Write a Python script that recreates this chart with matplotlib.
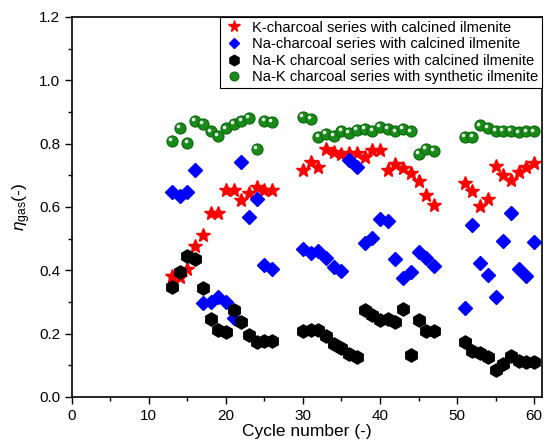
import matplotlib
matplotlib.use('Agg')
import matplotlib.pyplot as plt
import matplotlib.transforms as mtransforms
from matplotlib.ticker import MultipleLocator

plt.rcParams['font.family'] = ['Liberation Sans', 'DejaVu Sans']
plt.rcParams['mathtext.fontset'] = 'custom'
plt.rcParams['mathtext.rm'] = 'Liberation Sans'
plt.rcParams['mathtext.it'] = 'Liberation Sans:italic'

# cycle numbers of the three test campaigns
cycles_a = list(range(13, 27))
cycles_b = list(range(30, 48))
cycles_c = list(range(51, 61))
cycles = cycles_a + cycles_b + cycles_c

# gas conversion per cycle
k_calcined = [0.383, 0.380, 0.403, 0.477, 0.510, 0.582, 0.582, 0.654, 0.654, 0.622, 0.645, 0.662, 0.654, 0.654,
              0.715, 0.743, 0.726, 0.783, 0.774, 0.768, 0.770, 0.770, 0.756, 0.780, 0.780, 0.717, 0.736, 0.723,
              0.707, 0.683, 0.638, 0.605,
              0.675, 0.649, 0.603, 0.625, 0.730, 0.701, 0.686, 0.709, 0.726, 0.740]
na_calcined = [0.648, 0.635, 0.648, 0.715, 0.296, 0.301, 0.314, 0.299, 0.249, 0.742, 0.568, 0.625, 0.415, 0.403,
               0.468, 0.454, 0.461, 0.438, 0.409, 0.396, 0.749, 0.727, 0.486, 0.501, 0.562, 0.556, 0.435, 0.375,
               0.393, 0.456, 0.439, 0.414,
               0.282, 0.543, 0.422, 0.385, 0.314, 0.491, 0.582, 0.403, 0.383, 0.488]
nak_calcined = [0.348, 0.393, 0.446, 0.434, 0.343, 0.245, 0.212, 0.204, 0.275, 0.235, 0.197, 0.174, 0.175, 0.175,
                0.209, 0.212, 0.212, 0.191, 0.168, 0.154, 0.134, 0.127, 0.275, 0.259, 0.243, 0.245, 0.238, 0.277,
                0.133, 0.243, 0.209, 0.209,
                0.172, 0.146, 0.140, 0.127, 0.085, 0.104, 0.130, 0.114, 0.110, 0.110]
nak_synthetic = [0.809, 0.850, 0.801, 0.872, 0.862, 0.838, 0.825, 0.848, 0.862, 0.872, 0.880, 0.783, 0.872, 0.869,
                 0.884, 0.877, 0.822, 0.830, 0.825, 0.841, 0.833, 0.844, 0.846, 0.840, 0.852, 0.846, 0.838, 0.846,
                 0.838, 0.767, 0.783, 0.778,
                 0.822, 0.822, 0.857, 0.849, 0.841, 0.841, 0.841, 0.835, 0.838, 0.838]

labels = ['K-charcoal series with calcined ilmenite',
          'Na-charcoal series with calcined ilmenite',
          'Na-K charcoal series with calcined ilmenite',
          'Na-K charcoal series with synthetic ilmenite']

fig = plt.figure(figsize=(5.44, 4.43), dpi=100)
ax = fig.add_axes([0.132, 0.104, 0.864, 0.858])

ax.plot(cycles, k_calcined, ls='none', marker='*', ms=10.5, color='red', mec='red', label=labels[0])
ax.plot(cycles, na_calcined, ls='none', marker='D', ms=7, color='blue', mec='blue', label=labels[1])
ax.plot(cycles, nak_calcined, ls='none', marker='h', ms=9.5, color='black', mec='black', label=labels[2])
ax.plot(cycles, nak_synthetic, ls='none', marker='o', ms=8, color='#1a8a1a', mec='#0b6b0b', mew=0.8,
        label=labels[3])

# small white highlight on the green balls
shine = mtransforms.offset_copy(ax.transData, fig=fig, x=-1.3, y=1.3, units='points')
ax.plot(cycles, nak_synthetic, ls='none', marker='o', ms=2.6, color='white', mec='none',
        alpha=0.9, transform=shine)

ax.set_xlim(0, 61)
ax.set_ylim(0, 1.2)
ax.xaxis.set_major_locator(MultipleLocator(10))
ax.xaxis.set_minor_locator(MultipleLocator(5))
ax.yaxis.set_major_locator(MultipleLocator(0.2))
ax.yaxis.set_minor_locator(MultipleLocator(0.1))
ax.tick_params(which='major', length=5, width=1, labelsize=11, direction='out')
ax.tick_params(which='minor', length=3, width=1, direction='out')
for s in ax.spines.values():
    s.set_linewidth(1.2)

ax.set_xlabel('Cycle number (-)', fontsize=12.5, labelpad=1)
ax.set_ylabel(r'$\eta_{\mathrm{gas}}$(-)', fontsize=12.5, labelpad=4)

leg = ax.legend(loc='upper right', borderaxespad=0, fancybox=False, edgecolor='black', framealpha=1,
                fontsize=10.6, handletextpad=0.5, labelspacing=0.18, borderpad=0.25, handlelength=1.4,
                markerscale=0.8)
leg.get_frame().set_linewidth(0.8)

fig.savefig('out.png', dpi=100)
